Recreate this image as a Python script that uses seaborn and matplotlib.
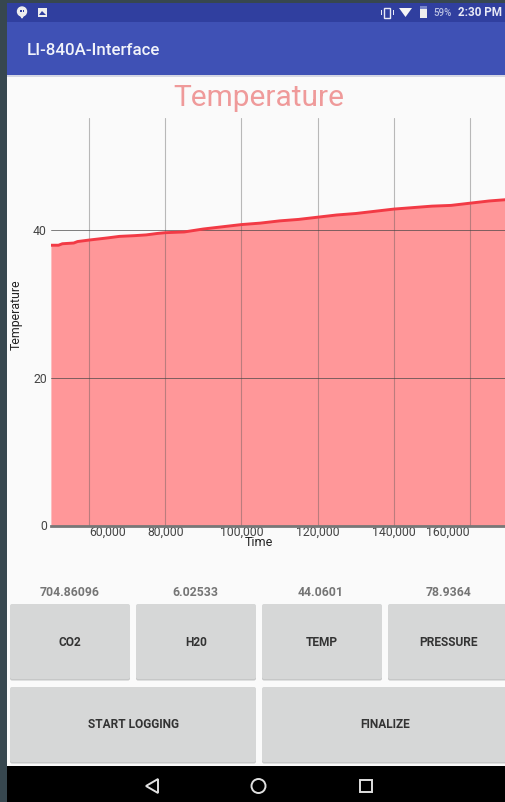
import matplotlib
matplotlib.use("Agg")
import matplotlib.pyplot as plt
from matplotlib.patches import Rectangle, FancyBboxPatch, Circle, Polygon
import pandas as pd
import seaborn as sns

# Values
time_ms = [50000, 52000, 53000, 56000, 57000, 60000, 65000, 68000, 72000, 75000, 78000, 80000, 85000, 90000,
           95000, 100000, 105000, 110000, 115000, 120000, 125000, 130000, 135000, 140000, 145000, 150000,
           155000, 160000, 165000, 170000]
temperature = [38.0, 38.0, 38.2, 38.3, 38.5, 38.7, 39.0, 39.2, 39.3, 39.4, 39.6, 39.7, 39.8, 40.2,
               40.5, 40.8, 41.0, 41.3, 41.5, 41.8, 42.1, 42.3, 42.6, 42.9, 43.1, 43.3,
               43.4, 43.7, 44.0, 44.2]
x_ticks = [60000, 80000, 100000, 120000, 140000, 160000]
x_tick_labels = ["60,000", "80,000", "100,000", "120,000", "140,000", "160,000"]
x_tick_align = ["left", "center", "center", "center", "center", "right"]
y_ticks = [0, 20, 40]
readings = ["704.86096", "6.02533", "44.0601", "78.9364"]
top_buttons = ["CO2", "H20", "TEMP", "PRESSURE"]
bottom_buttons = ["START LOGGING", "FINALIZE"]

W, H = 505, 802
sns.set_theme(style="white")
plt.rcParams["font.family"] = ["Roboto", "DejaVu Sans"]

fig = plt.figure(figsize=(W / 100, H / 100), dpi=100, facecolor="#fafafa")

# screen furniture in pixel coordinates
ui = fig.add_axes([0, 0, 1, 1], zorder=0)
ui.set_xlim(0, W)
ui.set_ylim(H, 0)
ui.axis("off")

ui.add_patch(Rectangle((0, 0), 7, H, color="#37474f", lw=0))
ui.add_patch(Rectangle((0, 0), W, 3, color="#37474f", lw=0))
ui.add_patch(Rectangle((7, 3), W - 7, 19, color="#303f9f", lw=0))
ui.add_patch(Rectangle((7, 22), W - 7, 53, color="#3f51b5", lw=0))
ui.add_patch(Rectangle((7, 75), W - 7, 2, color="#d5d7e3", lw=0))
ui.add_patch(Rectangle((7, 766), W - 7, 36, color="#000000", lw=0))

ui.text(27, 50.5, "LI-840A-Interface", color="#f1f3fa", fontsize=12.2, va="center", fontweight="medium")
ui.text(433, 13, "59%", color="#b9c0e2", fontsize=7, va="center", ha="left", fontweight="medium")
ui.text(502, 12.5, "2:30 PM", color="#e8eaf6", fontsize=8.4, va="center", ha="right", fontweight="bold")
ui.text(258.5, 97.5, "Temperature", color="#ef9a9a", fontsize=21.5, ha="center", va="center")

# status bar icons
ui.add_patch(Circle((22, 11.5), 4.5, color="#eeeeee"))
ui.add_patch(Polygon([[20, 14], [24, 14], [22, 18]], color="#eeeeee"))
ui.add_patch(Rectangle((20, 10), 1.5, 2, color="#303f9f", lw=0))
ui.add_patch(Rectangle((22.5, 10), 1.5, 2, color="#303f9f", lw=0))
ui.add_patch(Rectangle((38, 8), 9, 8.5, color="#eeeeee", lw=0))
ui.add_patch(Polygon([[39, 15], [42, 11], [46, 15]], color="#303f9f", lw=0))
ui.add_patch(Rectangle((384, 7.5), 6, 10, fill=False, ec="#e8eaf6", lw=1))
ui.add_patch(Rectangle((380.5, 10), 1, 5, color="#e8eaf6", lw=0))
ui.add_patch(Rectangle((392.5, 10), 1, 5, color="#e8eaf6", lw=0))
ui.add_patch(Polygon([[399, 8], [412, 8], [405.5, 17]], color="#f5f5f5", lw=0))
ui.add_patch(Rectangle((420, 9), 6.5, 8.5, color="#eeeeee", lw=0))
ui.add_patch(Rectangle((420, 5.5), 6.5, 3.5, color="#7986cb", lw=0))


def button(x0, y0, w, h, label):
    ui.add_patch(FancyBboxPatch((x0, y0 + 1.5), w, h, boxstyle="round,pad=0,rounding_size=2", fc="#c6c7c7", ec="none"))
    ui.add_patch(FancyBboxPatch((x0, y0), w, h, boxstyle="round,pad=0,rounding_size=2", fc="#d6d7d7", ec="none"))
    ui.text(x0 + w / 2, y0 + h / 2 + 0.5, label, color="#333333", fontsize=8.6, ha="center", va="center", fontweight="bold")


# readings and buttons
for cx, value in zip([70, 195, 321, 448], readings):
    ui.text(cx, 592, value, color="#757575", fontsize=8.8, ha="center", va="center", fontweight="bold")
for x0, label in zip([10, 136, 262, 388], top_buttons):
    button(x0, 604, 120, 75, label)
for x0, label in zip([10, 262], bottom_buttons):
    button(x0, 687, 246, 75, label)

# navigation bar
ui.add_patch(Polygon([[146, 786], [158, 779], [158, 793]], fill=False, ec="#e0e0e0", lw=1.4))
ui.add_patch(Circle((258.5, 786), 7, fill=False, ec="#e0e0e0", lw=1.4))
ui.add_patch(Rectangle((360, 780), 12, 12, fill=False, ec="#e0e0e0", lw=1.4))

# chart
left, right, top, bottom = 51, 505, 118, 525.5
ax = fig.add_axes([left / W, 1 - bottom / H, (right - left) / W, (bottom - top) / H], zorder=1)
ax.patch.set_alpha(0)

df = pd.DataFrame({"Time": time_ms, "Temperature": temperature})
sns.lineplot(data=df, x="Time", y="Temperature", ax=ax, color="#f23a45", linewidth=2.1, zorder=3)
ax.fill_between(df["Time"], df["Temperature"], 0, color="#ff9799", lw=0, zorder=2)

ax.set_xlim(50026, 169186)
ax.set_ylim(0, 55.25)
ax.set_xticks(x_ticks)
ax.set_xticklabels(x_tick_labels, fontsize=8.8, color="#444444")
for lab, a in zip(ax.get_xticklabels(), x_tick_align):
    lab.set_ha(a)
ax.set_yticks(y_ticks)
ax.set_yticklabels(y_ticks, fontsize=8.8, color="#444444")
ax.tick_params(axis="both", length=0)
ax.tick_params(axis="x", pad=0)
ax.tick_params(axis="y", pad=3)
ax.grid(True, axis="x", color="#555555", alpha=0.4, lw=0.8)
ax.grid(True, axis="y", color="#444444", alpha=0.8, lw=0.6)
ax.set_axisbelow(False)

ax.set_xlabel("Time", fontsize=9, color="#222222", labelpad=0)
ax.xaxis.set_label_coords((259 - left) / (right - left), -(543 - bottom) / (bottom - top), transform=ax.transAxes)
ax.xaxis.label.set_va("center")
ax.set_ylabel("Temperature", fontsize=8.8, color="#222222")
ax.yaxis.set_label_coords(-(left - 16) / (right - left), (bottom - 315) / (bottom - top), transform=ax.transAxes)
ax.yaxis.label.set_va("center")

sns.despine(ax=ax, top=True, right=True, left=True)
ax.spines["bottom"].set_color("#777777")
ax.spines["bottom"].set_linewidth(2)
ax.spines["bottom"].set_zorder(5)

fig.savefig("out.png", dpi=100, facecolor=fig.get_facecolor())
